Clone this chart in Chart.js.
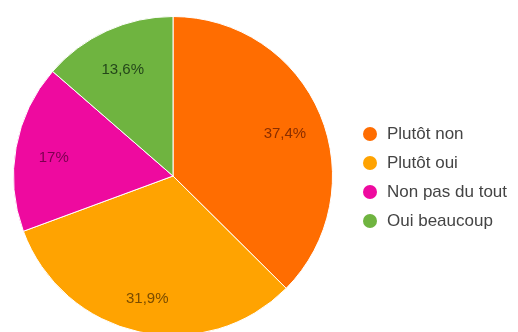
<!DOCTYPE html>
<html>
<head>
<meta charset="utf-8">
<script src="https://cdn.jsdelivr.net/npm/chart.js@4/dist/chart.umd.min.js"></script>
<style>
  html, body { margin: 0; padding: 0; background: #fff; overflow: hidden; }
  #wrap { width: 518px; height: 332px; overflow: hidden; }
  canvas { display: block; }
</style>
</head>
<body>
<div id="wrap"><canvas id="pie" width="518" height="350"></canvas></div>
<script>
// Survey answers and their shares (%)
const categories = ['Plutôt non', 'Plutôt oui', 'Non pas du tout', 'Oui beaucoup'];
const shares = [37.4, 31.9, 17, 13.6];
const sliceColors = ['#ff6d01', '#ffa301', '#ee0a9f', '#6fb440'];
const labelColors = ['#8a2e00', '#7a4c00', '#7c0050', '#24461a'];

const FONT = '"Liberation Sans", Arial, sans-serif';

function fmtPct(v) {
  return String(v).replace('.', ',') + '%';
}

// Percentage text inside each slice
const sliceLabels = {
  id: 'sliceLabels',
  afterDatasetsDraw(chart) {
    const ctx = chart.ctx;
    const meta = chart.getDatasetMeta(0);
    ctx.save();
    ctx.font = '15px ' + FONT;
    ctx.textAlign = 'center';
    ctx.textBaseline = 'middle';
    meta.data.forEach((arc, i) => {
      const mid = (arc.startAngle + arc.endAngle) / 2;
      const r = arc.outerRadius * 0.76;
      const x = arc.x + Math.cos(mid) * r;
      const y = arc.y + Math.sin(mid) * r + 4;
      ctx.fillStyle = labelColors[i];
      ctx.fillText(fmtPct(chart.data.datasets[0].data[i]), x, y);
    });
    ctx.restore();
  }
};

// Legend to the right of the pie
const sideLegend = {
  id: 'sideLegend',
  afterDraw(chart) {
    const ctx = chart.ctx;
    const x0 = 370, y0 = 134, step = 29;
    ctx.save();
    ctx.font = '17px ' + FONT;
    ctx.textAlign = 'left';
    ctx.textBaseline = 'middle';
    chart.data.labels.forEach((lab, i) => {
      const y = y0 + i * step;
      ctx.beginPath();
      ctx.arc(x0, y, 7, 0, Math.PI * 2);
      ctx.fillStyle = chart.data.datasets[0].backgroundColor[i];
      ctx.fill();
      ctx.fillStyle = '#444';
      ctx.fillText(lab, x0 + 17, y);
    });
    ctx.restore();
  }
};

new Chart(document.getElementById('pie'), {
  type: 'pie',
  data: {
    labels: categories,
    datasets: [{
      data: shares,
      backgroundColor: sliceColors,
      borderColor: '#ffffff',
      borderWidth: 1
    }]
  },
  options: {
    responsive: false,
    devicePixelRatio: 1,
    animation: false,
    layout: { padding: { left: 13, top: 16, right: 185, bottom: 14 } },
    plugins: {
      legend: { display: false },
      tooltip: { enabled: false }
    }
  },
  plugins: [sliceLabels, sideLegend]
});
</script>
</body>
</html>
